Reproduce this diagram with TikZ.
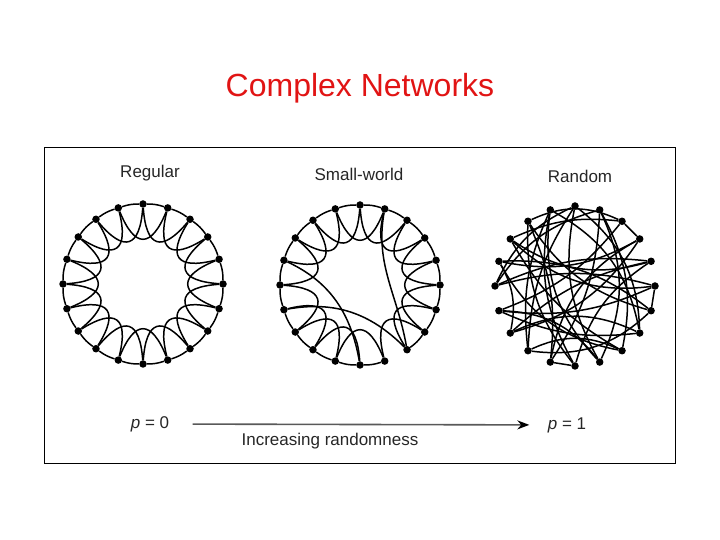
\documentclass[tikz,border=0pt]{standalone}
\usepackage{fontspec}
\setmainfont{Liberation Sans}
\usetikzlibrary{arrows.meta}
\definecolor{titolo}{RGB}{225,20,20}
\tikzset{
  nodo/.style={circle,fill=black,inner sep=0pt,minimum size=7.5pt},
  lato/.style={line width=1.5pt},
  etichetta/.style={text=black!85,font=\fontsize{17}{20}\selectfont},
}
\begin{document}
\begin{tikzpicture}[x=1pt,y=1pt]
\useasboundingbox (0,0) rectangle (720,540);

% Titolo
\node[text=titolo,font=\fontsize{32}{38}\selectfont] (titolo) at (360,452) {Complex Networks};

% Cornice
\draw[line width=1pt] (44,76) rectangle (675,392);

% Nodi dei tre anelli
\foreach \i in {0,...,19} {
  \pgfmathsetmacro\ang{90-18*\i}
  \node[nodo] (rg\i) at ([shift={(143,256)}]\ang:80) {};
  \node[nodo] (sw\i) at ([shift={(360,255)}]\ang:80) {};
  \node[nodo] (rd\i) at ([shift={(575,254)}]\ang:80) {};
}

% Regolare
\foreach \i in {0,...,19} {
  \pgfmathsetmacro\ang{90-18*\i}
  \pgfmathtruncatemacro\j{mod(\i+1,20)}
  \pgfmathtruncatemacro\k{mod(\i+2,20)}
  \draw[lato] (rg\i) to[bend left=9] (rg\j);
  \draw[lato] (rg\i) to[out=\ang+184,in=\ang+140,looseness=2.2] (rg\k);
}

% Piccolo mondo
\foreach \i in {0,...,19} {
  \pgfmathsetmacro\ang{90-18*\i}
  \pgfmathtruncatemacro\j{mod(\i+1,20)}
  \pgfmathtruncatemacro\k{mod(\i+2,20)}
  \ifnum\i=8\else
    \draw[lato] (sw\i) to[bend left=9] (sw\j);
  \fi
  \ifnum\i=8\else\ifnum\i=14\else
    \draw[lato] (sw\i) to[out=\ang+184,in=\ang+140,looseness=2.2] (sw\k);
  \fi\fi
}
\draw[lato] (sw16) to[out=-25,in=100] (sw10);
\draw[lato] (sw14) to[out=10,in=135] (sw8);
\draw[lato] (sw1) to[out=-100,in=100] (sw8);

% Casuale
\foreach \a/\b/\c in {0/7/25, 0/12/-15, 1/9/25, 1/15/-20, 2/3/0, 2/14/15,
    3/11/-25, 3/16/20, 4/13/-15, 4/17/25, 5/6/0, 5/15/-15, 6/18/20,
    7/13/-25, 8/17/15, 8/1/-20, 9/19/25, 10/11/0, 10/4/20, 11/18/-15,
    12/6/-25, 12/19/15, 13/16/-20, 14/9/25, 14/5/-15, 15/0/20, 16/8/-25,
    17/2/15, 18/10/-20, 19/7/25, 0/9/-20, 1/11/15, 2/18/-25, 3/13/20,
    4/15/-15, 5/17/25, 6/16/-20, 7/14/15, 8/12/-25, 10/19/20}
  \draw[lato] (rd\a) to[bend left=\c] (rd\b);

% Etichette
\node[etichetta] (reg) at (150,367) {Regular};
\node[etichetta] (pm) at (359,366) {Small-world};
\node[etichetta] (cas) at (580,364) {Random};

% Asse della casualità
\node[etichetta] (p0) at (150,116) {\itshape p\upshape{} = 0};
\node[etichetta] (p1) at (567,115) {\itshape p\upshape{} = 1};
\draw[line width=1.6pt,black!65,-{Stealth[length=12pt,width=9pt,black]},
  shorten <=20pt,shorten >=15pt] (p0) -- (p1);
\node[etichetta] (crescita) at (330,99) {Increasing randomness};
\end{tikzpicture}
\end{document}
